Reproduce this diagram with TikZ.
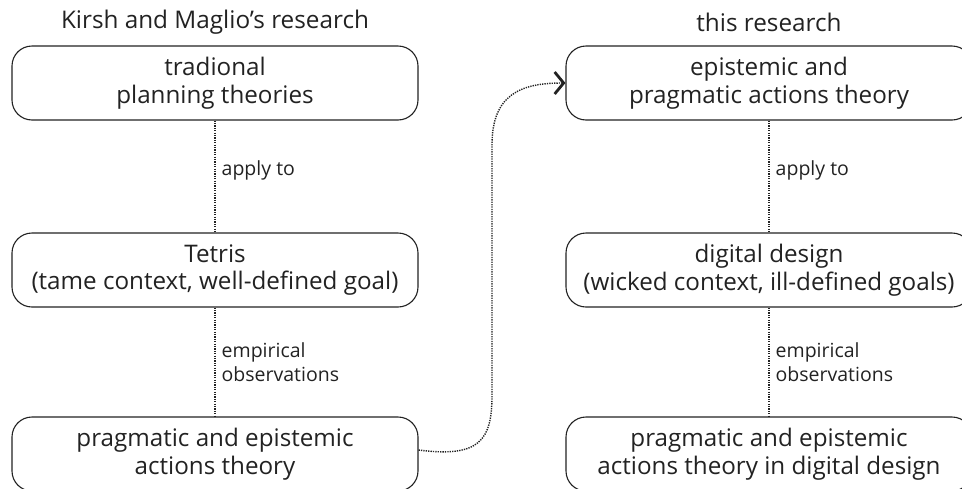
\documentclass[tikz,border=0pt]{standalone}
\usepackage{fontspec}
\setmainfont{Open Sans}
\usetikzlibrary{arrows.meta}
\definecolor{ink}{HTML}{222222}
\begin{document}
\begin{tikzpicture}[x=1pt,y=-1pt,
  box/.style={draw=ink, line width=1.1pt, rounded corners=20pt, minimum width=406pt, minimum height=74pt,
    inner sep=0pt, align=center, text=ink, font=\fontsize{24.2}{27.5}\selectfont},
  head/.style={text=ink, font=\fontsize{24.3}{28}\selectfont, inner sep=0pt},
  lab/.style={text=ink, font=\fontsize{19.5}{24}\selectfont, align=left, anchor=west, inner sep=0pt},
  link/.style={draw=ink, line width=1.4pt, dash pattern=on 1.3pt off 1.1pt}]
\useasboundingbox (0,0) rectangle (962,488);
\clip (0,0) rectangle (962,488);
\node[head] (h1) at (215,22) {Kirsh and Maglio’s research};
\node[head] (h2) at (769,22) {this research};
\node[box] (l1) at (215,83) {tradional\\planning theories};
\node[box] (l2) at (215,270) {Tetris\\(tame context, well-defined goal)};
\node[box] (l3) at (215,454) {pragmatic and epistemic\\actions theory};
\node[box] (r1) at (769,83) {epistemic and\\pragmatic actions theory};
\node[box] (r2) at (769,270) {digital design\\(wicked context, ill-defined goals)};
\node[box] (r3) at (769,454) {pragmatic and epistemic\\actions theory in digital design};
\draw[link] (l1.south) -- (l2.north) node[pos=0.45, lab, xshift=6pt] (a1) {apply to};
\draw[link] (l2.south) -- (l3.north) node[pos=0.5, lab, xshift=6pt] (a2) {empirical\\observations};
\draw[link] (r1.south) -- (r2.north) node[pos=0.45, lab, xshift=6pt] (a3) {apply to};
\draw[link] (r2.south) -- (r3.north) node[pos=0.5, lab, xshift=6pt] (a4) {empirical\\observations};
\coordinate (c1) at (492,395);
\coordinate (c2) at (492,145);
\draw[link, -{Straight Barb[length=9pt,width=22pt,line width=2.8pt]}]
  ([yshift=4pt]l3.east) .. controls (480,458) and (492,440) .. (c1) -- (c2)
  .. controls (492,95) and (520,83) .. (r1.west);
\end{tikzpicture}
\end{document}
